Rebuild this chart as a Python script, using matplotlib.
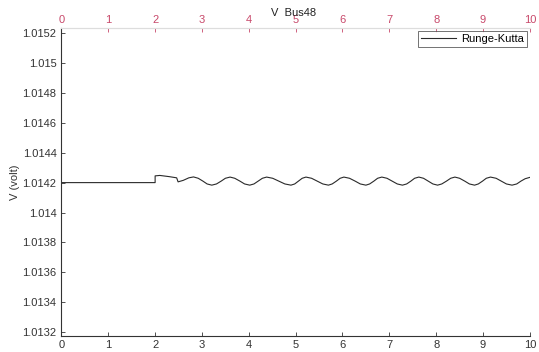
import matplotlib.pyplot as plt

plt.rcParams['font.family'] = ['Liberation Sans', 'DejaVu Sans']

# time (s) and voltage (volt)
t = [0.0, 2.0, 2.0, 2.1, 2.3, 2.46, 2.49, 2.6, 2.72, 2.82,
     2.92, 3.02, 3.11, 3.21, 3.31, 3.41, 3.50, 3.60,
     3.70, 3.81, 3.91, 4.02, 4.11, 4.20, 4.29, 4.38,
     4.51, 4.64, 4.77, 4.90, 4.98, 5.06, 5.14, 5.22,
     5.34, 5.46, 5.58, 5.70, 5.78, 5.87, 5.95, 6.03,
     6.15, 6.27, 6.38, 6.50, 6.58, 6.67, 6.75, 6.84,
     6.95, 7.06, 7.17, 7.28, 7.37, 7.46, 7.54, 7.63,
     7.73, 7.83, 7.93, 8.03, 8.12, 8.22, 8.31, 8.40,
     8.50, 8.61, 8.71, 8.82, 8.90, 8.99, 9.07, 9.16,
     9.28, 9.39, 9.50, 9.62, 9.72, 9.81, 9.90, 10.0]
v = [1.014200, 1.014200, 1.014245, 1.014248, 1.014240, 1.014232, 1.014205,
     1.014215, 1.014232, 1.014238,
     1.014229, 1.014210, 1.014191, 1.014183, 1.014191, 1.014210, 1.014229, 1.014237,
     1.014229, 1.014210, 1.014191, 1.014183, 1.014191, 1.014210, 1.014229, 1.014237,
     1.014229, 1.014210, 1.014191, 1.014183, 1.014191, 1.014210, 1.014229, 1.014237,
     1.014229, 1.014210, 1.014191, 1.014183, 1.014191, 1.014210, 1.014229, 1.014237,
     1.014229, 1.014210, 1.014191, 1.014183, 1.014191, 1.014210, 1.014229, 1.014237,
     1.014229, 1.014210, 1.014191, 1.014183, 1.014191, 1.014210, 1.014229, 1.014237,
     1.014229, 1.014210, 1.014191, 1.014183, 1.014191, 1.014210, 1.014229, 1.014237,
     1.014229, 1.014210, 1.014191, 1.014183, 1.014191, 1.014210, 1.014229, 1.014237,
     1.014229, 1.014210, 1.014191, 1.014183, 1.014191, 1.014210, 1.014226, 1.014235]

x_ticks = list(range(0, 11))
y_ticks = [1.0132, 1.0134, 1.0136, 1.0138, 1.014, 1.0142, 1.0144,
           1.0146, 1.0148, 1.015, 1.0152]
y_labels = ['1.0132', '1.0134', '1.0136', '1.0138', '1.014', '1.0142',
            '1.0144', '1.0146', '1.0148', '1.015', '1.0152']

fig = plt.figure(figsize=(5.39, 3.52), dpi=100)
ax = fig.add_axes([0.114, 0.045, 0.869, 0.875])

ax.plot(t, v, color='#2a2a2a', lw=0.8, label='Runge-Kutta')

ax.set_xlim(0, 10)
ax.set_ylim(1.013173, 1.015233)
ax.set_xticks(x_ticks)
ax.set_yticks(y_ticks)
ax.set_yticklabels(y_labels)
ax.tick_params(direction='in', length=3, labelsize=8, colors='#333333',
               width=0.6)
ax.tick_params(axis='x', pad=3)

for s in ['left', 'bottom']:
    ax.spines[s].set_color('#333333')
    ax.spines[s].set_linewidth(0.8)
ax.spines['right'].set_visible(False)
ax.spines['top'].set_color('#dddddd')

# second x axis on top, red labels
top = ax.secondary_xaxis('top')
top.set_xticks(x_ticks)
top.tick_params(direction='in', length=3, labelsize=8, colors='#c8486a',
                width=0.6, pad=2)
top.spines['top'].set_color('#dddddd')

ax.set_ylabel('V (volt)', fontsize=8, color='#333333', labelpad=2)
fig.text(0.545, 0.962, 'V  Bus48', fontsize=8, ha='center', va='center',
         color='#222222')

leg = ax.legend(loc='upper right', fontsize=8, frameon=True, fancybox=False,
                handlelength=3.2, borderaxespad=0.3, borderpad=0.25,
                handletextpad=0.4)
leg.get_frame().set_edgecolor('#333333')
leg.get_frame().set_linewidth(0.6)

fig.savefig('out.png', dpi=100)
